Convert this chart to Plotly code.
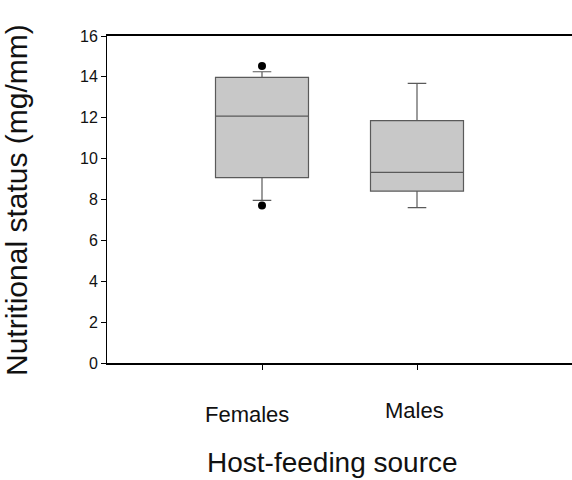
import plotly.graph_objects as go

# ---- data ----
categories = ["Females", "Males"]
positions = [1, 2]
q1 = [9.07, 8.41]
median = [12.08, 9.33]
q3 = [13.98, 11.86]
lower_whisker = [7.96, 7.60]
upper_whisker = [14.25, 13.68]
outlier_x = [1, 1]
outlier_y = [14.53, 7.71]
y_ticks = [0, 2, 4, 6, 8, 10, 12, 14, 16]

FONT = "Liberation Sans, Arial, sans-serif"

fig = go.Figure()
for i, cat in enumerate(categories):
    fig.add_trace(go.Box(
        x=[positions[i]],
        q1=[q1[i]], median=[median[i]], q3=[q3[i]],
        lowerfence=[lower_whisker[i]], upperfence=[upper_whisker[i]],
        name=cat,
        width=0.6,
        whiskerwidth=0.2,
        fillcolor="#c8c8c8",
        line=dict(color="#5a5a5a", width=1.2),
        boxpoints=False,
        showlegend=False,
        hoverinfo="skip",
    ))

fig.add_trace(go.Scatter(
    x=outlier_x, y=outlier_y, mode="markers",
    marker=dict(color="black", size=8),
    showlegend=False, hoverinfo="skip",
))

# layout geometry (page pixels); body margin is removed by post_script
W, H = 572, 480
L, R, T, B = 107, 0, 36, 117
pw, ph = W - L - R, H - T - B

def px_x(p):
    return (p - L) / pw

def px_y(p):
    return (H - B - p) / ph

fig.update_layout(
    width=W, height=H,
    margin=dict(l=L, r=R, t=T, b=B, pad=0),
    paper_bgcolor="white", plot_bgcolor="white",
    font=dict(family=FONT, color="black"),
    xaxis=dict(
        range=[0, 3], tickvals=positions, ticktext=["", ""],
        showticklabels=False,
        ticks="outside", ticklen=5, tickwidth=1, tickcolor="black",
        showline=True, linecolor="black", linewidth=1.5, mirror=True,
        showgrid=False, zeroline=False,
    ),
    yaxis=dict(
        range=[0, 16], tickvals=y_ticks,
        ticks="outside", ticklen=5, tickwidth=1, tickcolor="black",
        tickfont=dict(size=16, family=FONT, color="#111"),
        showline=True, linecolor="black", linewidth=1,
        showgrid=False, zeroline=False,
    ),
    annotations=[
        dict(text=categories[0], x=positions[0], xref="x", xshift=-15.5,
             y=px_y(414), yref="paper", showarrow=False,
             xanchor="center", yanchor="middle",
             font=dict(size=22, family=FONT, color="#111")),
        dict(text=categories[1], x=positions[1], xref="x", xshift=-3,
             y=px_y(410), yref="paper", showarrow=False,
             xanchor="center", yanchor="middle",
             font=dict(size=22, family=FONT, color="#111")),
        dict(text="Host-feeding source", x=px_x(332), xref="paper",
             y=px_y(462), yref="paper", showarrow=False,
             xanchor="center", yanchor="middle",
             font=dict(size=28, family=FONT, color="#111")),
        dict(text="Nutritional status (mg/mm)", x=px_x(17), xref="paper",
             y=px_y(200), yref="paper", showarrow=False, textangle=-90,
             xanchor="center", yanchor="middle",
             font=dict(size=30, family=FONT, color="#111")),
    ],
)

fig.write_html(
    "out.html",
    config={"displayModeBar": False},
    post_script="document.body.style.margin='0';document.body.style.overflow='hidden';",
)
